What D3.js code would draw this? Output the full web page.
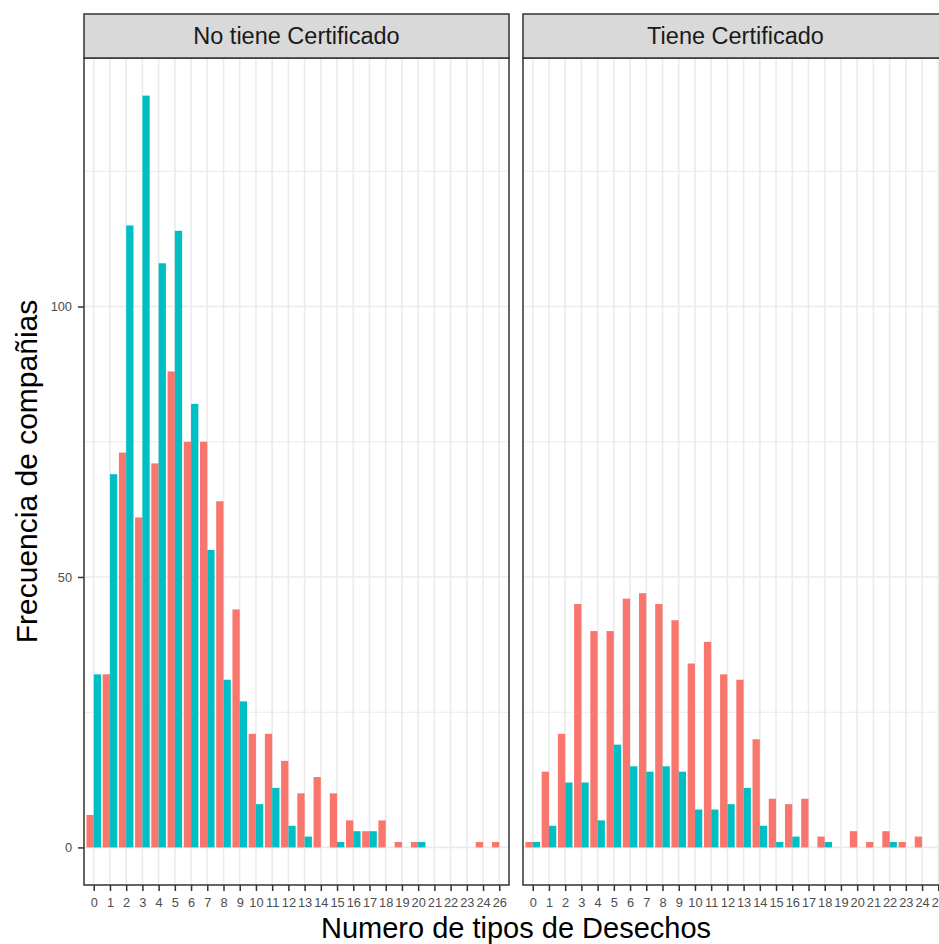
<!DOCTYPE html>
<html>
<head>
<meta charset="utf-8">
<script src="https://cdn.jsdelivr.net/npm/d3@7"></script>
<style>
  html, body { margin: 0; padding: 0; background: #fff; }
  svg { display: block; font-family: "Liberation Sans", Arial, Helvetica, sans-serif; }
</style>
</head>
<body>
<svg id="chart" width="939" height="944"></svg>
<script>
// ---- data ----
const categories = ["0","1","2","3","4","5","6","7","8","9","10","11","12","13","14","15","16","17","18","19","20","21","22","23","24","26"];
const facets = ["No tiene Certificado", "Tiene Certificado"];
const seriesNames = ["No", "Sí"];
const seriesColors = ["#F8766D", "#00BFC4"];
// No tiene Certificado
const noCertRed  = [6,32,73,61,71,88,75,75,64,44,21,21,16,10,13,10,5,3,5,1,1,0,0,0,1,1];
const noCertTeal = [32,69,115,139,108,114,82,55,31,27,8,11,4,2,0,1,3,3,0,0,1,0,0,0,0,0];
// Tiene Certificado
const certRed    = [1,14,21,45,40,40,46,47,45,42,34,38,32,31,20,9,8,9,2,0,3,1,3,1,2,0];
const certTeal   = [1,4,12,12,5,19,15,14,15,14,7,7,8,11,4,1,2,0,1,0,0,0,1,0,0,0];
const yMajorTicks = [0, 50, 100];
const yMinorTicks = [25, 75, 125];
const xTitle = "Numero de tipos de Desechos";
const yTitle = "Frecuencia de compañias";

const panelData = [[noCertRed, noCertTeal], [certRed, certTeal]];

// ---- layout ----
const svg = d3.select("#chart");
svg.append("rect").attr("width", 939).attr("height", 944).attr("fill", "#fff");

const panelW = 425;
const panelX = [84, 523];
const panelTop = 58, panelBottom = 885;
const stripTop = 14;

const yMax = d3.max([].concat(noCertRed, noCertTeal, certRed, certTeal));
const yPad = yMax * 0.05;
const y = d3.scaleLinear().domain([-yPad, yMax + yPad]).range([panelBottom, panelTop]);

const x = d3.scalePoint().domain(categories).range([0, panelW]).padding(0.6);
const step = x.step();
const barW = step * 0.9 / 2;

facets.forEach((name, pi) => {
  const g = svg.append("g").attr("transform", `translate(${panelX[pi]},0)`);
  // grid
  g.selectAll("line.minor").data(yMinorTicks).join("line")
    .attr("x1", 0).attr("x2", panelW)
    .attr("y1", d => y(d)).attr("y2", d => y(d))
    .attr("stroke", "#EBEBEB").attr("stroke-width", 1.1);
  g.selectAll("line.majy").data(yMajorTicks).join("line")
    .attr("x1", 0).attr("x2", panelW)
    .attr("y1", d => y(d)).attr("y2", d => y(d))
    .attr("stroke", "#EBEBEB").attr("stroke-width", 1.6);
  g.selectAll("line.majx").data(categories).join("line")
    .attr("x1", d => x(d)).attr("x2", d => x(d))
    .attr("y1", panelTop).attr("y2", panelBottom)
    .attr("stroke", "#EBEBEB").attr("stroke-width", 1.6);

  // bars
  panelData[pi].forEach((vals, si) => {
    g.append("g").selectAll("rect")
      .data(categories.map((c, i) => ({c, v: vals[i]})).filter(d => d.v > 0))
      .join("rect")
      .attr("x", d => x(d.c) + (si === 0 ? -barW : 0))
      .attr("width", barW)
      .attr("y", d => y(d.v))
      .attr("height", d => y(0) - y(d.v))
      .attr("fill", seriesColors[si]);
  });

  // panel border
  g.append("rect").attr("x", 0).attr("y", panelTop).attr("width", panelW)
    .attr("height", panelBottom - panelTop)
    .attr("fill", "none").attr("stroke", "#333333").attr("stroke-width", 1.5);

  // strip
  g.append("rect").attr("x", 0).attr("y", stripTop).attr("width", panelW)
    .attr("height", panelTop - stripTop)
    .attr("fill", "#D9D9D9").attr("stroke", "#333333").attr("stroke-width", 1.5);
  g.append("text").attr("x", panelW / 2).attr("y", (stripTop + panelTop) / 2)
    .attr("text-anchor", "middle").attr("dominant-baseline", "central")
    .attr("font-size", 23.5).attr("fill", "#1A1A1A").text(name);

  // x axis
  const xAxis = d3.axisBottom(x).tickSize(6).tickPadding(7);
  const ax = g.append("g").attr("transform", `translate(0,${panelBottom})`).call(xAxis);
  ax.select(".domain").remove();
  ax.selectAll("line").attr("stroke", "#333333").attr("stroke-width", 1.5);
  ax.selectAll("text").attr("fill", "#4D4D4D").attr("font-size", 12.8)
    .attr("font-family", "Liberation Sans, Arial, sans-serif");

  if (pi === 0) {
    const yAxis = d3.axisLeft(y).tickValues(yMajorTicks).tickSize(6).tickPadding(6);
    const ay = g.append("g").call(yAxis);
    ay.select(".domain").remove();
    ay.selectAll("line").attr("stroke", "#333333").attr("stroke-width", 1.5);
    ay.selectAll("text").attr("fill", "#4D4D4D").attr("font-size", 12.8)
      .attr("font-family", "Liberation Sans, Arial, sans-serif");
  }
});

// axis titles
svg.append("text").attr("x", (panelX[0] + panelX[1] + panelW) / 2).attr("y", 938)
  .attr("text-anchor", "middle").attr("font-size", 29).attr("fill", "#000").text(xTitle);
svg.append("text")
  .attr("transform", `translate(37,${(panelTop + panelBottom) / 2}) rotate(-90)`)
  .attr("text-anchor", "middle").attr("font-size", 30).attr("fill", "#000").text(yTitle);
</script>
</body>
</html>
